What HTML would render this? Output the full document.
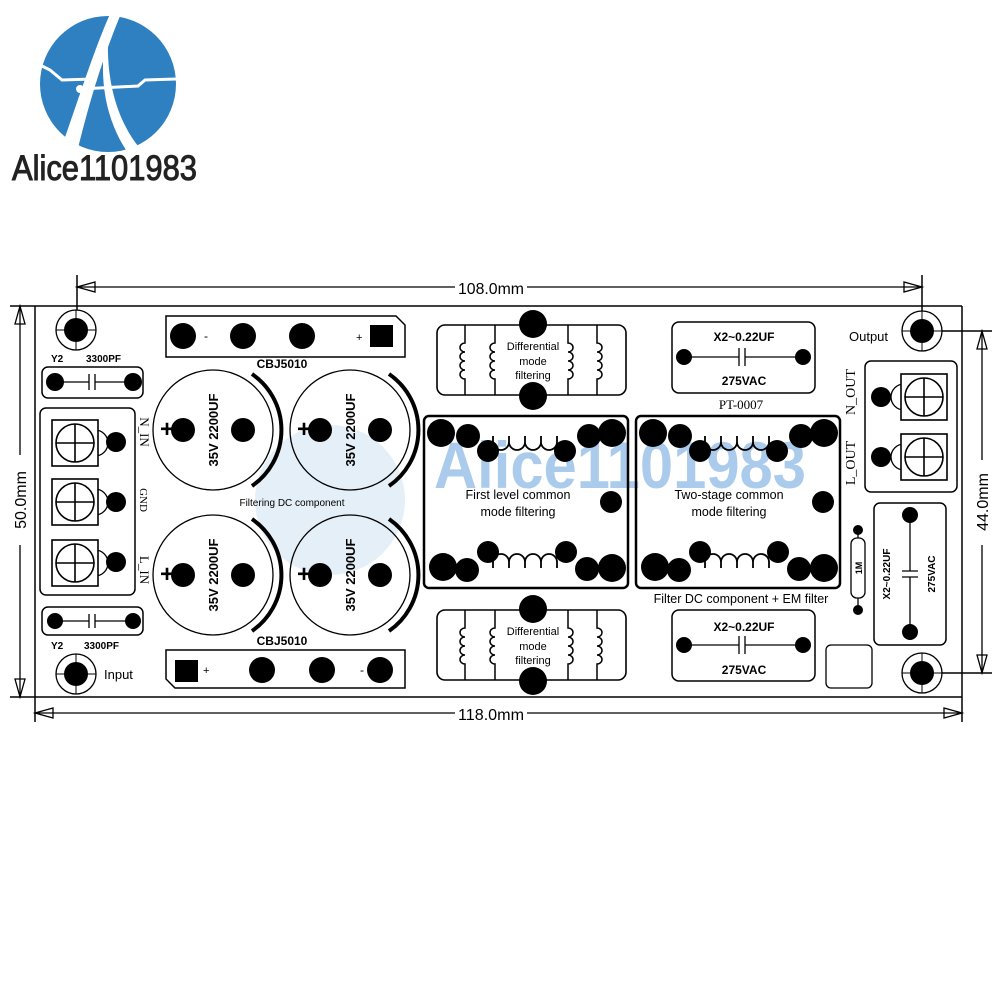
<!DOCTYPE html>
<html><head><meta charset="utf-8"><style>
html,body{margin:0;padding:0;background:#fff}
svg{display:block}
text{font-family:"Liberation Sans",Arial,sans-serif}
.s{font-family:"Liberation Serif",serif}
</style></head><body>
<svg width="1000" height="1000" viewBox="0 0 1000 1000" xmlns="http://www.w3.org/2000/svg">
<defs>
<g id="hole"><circle r="20" fill="#fff" stroke="#000" stroke-width="1.3"/><circle r="12" fill="#000"/><line x1="-20" y1="0" x2="20" y2="0" stroke="#000" stroke-width="1"/><line x1="0" y1="-20" x2="0" y2="20" stroke="#000" stroke-width="1"/></g>
<g id="term"><circle cx="-20" cy="0" r="13" fill="#fff" stroke="#000" stroke-width="1.3"/><rect x="-23" y="-23" width="46" height="46" fill="#fff" stroke="#000" stroke-width="1.6"/><circle r="19" fill="none" stroke="#000" stroke-width="1.6"/><line x1="-19" y1="0" x2="19" y2="0" stroke="#000" stroke-width="1.6"/><line x1="0" y1="-19" x2="0" y2="19" stroke="#000" stroke-width="1.6"/></g>
<g id="cap"><circle r="60" fill="none" stroke="#000" stroke-width="1.3"/><path d="M39,-56 A68,68 0 0 1 39,56" fill="none" stroke="#000" stroke-width="4"/><circle cx="-30" cy="0" r="12" fill="#000"/><circle cx="30" cy="0" r="12" fill="#000"/><text x="-46" y="7" font-size="24" font-weight="bold" text-anchor="middle">+</text><text transform="rotate(-90)" x="0" y="5" font-size="13" font-weight="bold" text-anchor="middle">35V 2200UF</text></g>
<g id="diff"><rect x="437" y="0" width="189" height="70" rx="8" fill="#fff" stroke="#000" stroke-width="1.6"/>
<g fill="none" stroke="#000" stroke-width="1.5">
<path d="M465,0 V18 a5,4.5 0 0 0 0,9 a5,4.5 0 0 0 0,9 a5,4.5 0 0 0 0,9 a5,4.5 0 0 0 0,9 V70"/>
<path d="M495,0 V18 a5,4.5 0 0 0 0,9 a5,4.5 0 0 0 0,9 a5,4.5 0 0 0 0,9 a5,4.5 0 0 0 0,9 V70"/>
<path d="M568,0 V18 a5,4.5 0 0 1 0,9 a5,4.5 0 0 1 0,9 a5,4.5 0 0 1 0,9 a5,4.5 0 0 1 0,9 V70"/>
<path d="M597,0 V18 a5,4.5 0 0 1 0,9 a5,4.5 0 0 1 0,9 a5,4.5 0 0 1 0,9 a5,4.5 0 0 1 0,9 V70"/>
</g>
<circle cx="533" cy="-1" r="14" fill="#000"/><circle cx="533" cy="71" r="14" fill="#000"/>
<text x="533" y="25" font-size="11" text-anchor="middle">Differential</text>
<text x="533" y="40" font-size="11" text-anchor="middle">mode</text>
<text x="533" y="54" font-size="11" text-anchor="middle">filtering</text>
</g>
<g id="cm"><rect x="424" y="416" width="204" height="172" rx="5" fill="none" stroke="#000" stroke-width="2.5"/>
<path d="M493,436 V442 a8,8 0 0 0 16,0 V436 M509,442 a8,8 0 0 0 16,0 V436 M525,442 a8,8 0 0 0 16,0 V436 M541,442 a8,8 0 0 0 16,0 V436" fill="none" stroke="#000" stroke-width="1.8"/>
<path d="M493,568 V562 a8,8 0 0 1 16,0 V568 M509,562 a8,8 0 0 1 16,0 V568 M525,562 a8,8 0 0 1 16,0 V568 M541,562 a8,8 0 0 1 16,0 V568" fill="none" stroke="#000" stroke-width="1.8"/>
<g fill="#000"><circle cx="441" cy="433" r="14"/><circle cx="468" cy="436" r="12"/><circle cx="488" cy="451" r="11"/><circle cx="565" cy="451" r="11"/><circle cx="589" cy="436" r="12"/><circle cx="612" cy="433" r="14"/><circle cx="611" cy="502" r="11"/><circle cx="443" cy="567" r="14"/><circle cx="467" cy="570" r="12"/><circle cx="488" cy="552" r="11"/><circle cx="566" cy="552" r="11"/><circle cx="587" cy="569" r="12"/><circle cx="612" cy="568" r="14"/></g></g>
<g id="x2h"><rect x="672" y="0" width="143" height="71" rx="7" fill="#fff" stroke="#000" stroke-width="1.5"/><circle cx="684" cy="35" r="8" fill="#000"/><circle cx="803" cy="35" r="8" fill="#000"/><path d="M684,35 H739 M745,35 H803 M739,26 V44 M745,26 V44" stroke="#000" stroke-width="1.3" fill="none"/></g>
</defs>

<!-- logo -->
<circle cx="108" cy="84" r="68" fill="#2f80c0"/>
<path d="M110,14 L120,16 C102,60 90,100 78,148 L64,140 C80,95 94,50 110,14 Z" fill="#fff"/>
<path d="M110,16 C104,60 110,110 138,146 L126,150 C100,110 98,60 110,16 Z" fill="#fff"/>
<path d="M40,65 L50,70 L62,80 L93,79" fill="none" stroke="#fff" stroke-width="3"/>
<path d="M80,89 L138,86 L145,80 L176,79" fill="none" stroke="#fff" stroke-width="3"/>
<circle cx="93" cy="79" r="4" fill="#fff"/><circle cx="80" cy="89" r="4" fill="#fff"/>
<text x="12" y="180" font-size="35" fill="#222" stroke="#222" stroke-width="1" textLength="185" lengthAdjust="spacingAndGlyphs">Alice1101983</text>

<!-- watermark -->
<circle cx="330" cy="500" r="75" fill="#d4e4f2" opacity="0.6"/>
<text x="434" y="488" font-size="66" font-weight="bold" fill="#9cc2e8" opacity="0.85" textLength="372" lengthAdjust="spacingAndGlyphs">Alice1101983</text>

<!-- board lines -->
<g stroke="#000" stroke-width="1.5" fill="none">
<line x1="10" y1="306" x2="962" y2="306"/>
<line x1="10" y1="697" x2="962" y2="697"/>
<line x1="35" y1="306" x2="35" y2="722"/>
<line x1="962" y1="306" x2="962" y2="722"/>
<line x1="77" y1="275" x2="77" y2="330"/>
<line x1="922" y1="275" x2="922" y2="330"/>
<line x1="922" y1="331" x2="992" y2="331"/>
<line x1="922" y1="673" x2="992" y2="673"/>
</g>
<g stroke="#000" stroke-width="1.3" fill="none">
<line x1="77" y1="287" x2="455" y2="287"/><line x1="527" y1="287" x2="922" y2="287"/>
<line x1="35" y1="713" x2="455" y2="713"/><line x1="527" y1="713" x2="962" y2="713"/>
<line x1="20" y1="306" x2="20" y2="455"/><line x1="20" y1="545" x2="20" y2="697"/>
<line x1="982" y1="331" x2="982" y2="460"/><line x1="982" y1="545" x2="982" y2="673"/>
<path d="M77,287 L95,282 L95,292 Z"/><path d="M922,287 L904,282 L904,292 Z"/>
<path d="M35,713 L53,708 L53,718 Z"/><path d="M962,713 L944,708 L944,718 Z"/>
<path d="M20,306 L15,324 L25,324 Z"/><path d="M20,697 L15,679 L25,679 Z"/>
<path d="M982,331 L977,349 L987,349 Z"/><path d="M982,673 L977,655 L987,655 Z"/>
</g>
<text x="491" y="294" font-size="16" text-anchor="middle" textLength="66" lengthAdjust="spacingAndGlyphs">108.0mm</text>
<text x="491" y="720" font-size="16" text-anchor="middle" textLength="66" lengthAdjust="spacingAndGlyphs">118.0mm</text>
<text transform="translate(26,500) rotate(-90)" font-size="16" text-anchor="middle">50.0mm</text>
<text transform="translate(988,502) rotate(-90)" font-size="16" text-anchor="middle">44.0mm</text>

<!-- holes -->
<use href="#hole" x="76" y="330"/><use href="#hole" x="76" y="674"/>
<use href="#hole" x="922" y="331"/><use href="#hole" x="922" y="673"/>
<text x="104" y="679" font-size="13">Input</text>
<text x="849" y="341" font-size="13">Output</text>

<!-- CBJ top -->
<path d="M166,316 H396 L405,325 V357 H166 Z" fill="#fff" stroke="#000" stroke-width="1.5"/>
<circle cx="183" cy="336" r="13" fill="#000"/><circle cx="243" cy="336" r="13" fill="#000"/><circle cx="302" cy="336" r="13" fill="#000"/>
<rect x="370" y="325" width="23" height="22" fill="#000"/>
<text x="204" y="340" font-size="12">-</text><text x="356" y="341" font-size="11">+</text>
<text x="282" y="368" font-size="12" font-weight="bold" text-anchor="middle">CBJ5010</text>
<!-- CBJ bottom -->
<path d="M166,650 H405 V688 H175 L166,679 Z" fill="#fff" stroke="#000" stroke-width="1.5"/>
<rect x="175" y="660" width="23" height="22" fill="#000"/>
<circle cx="262" cy="670" r="13" fill="#000"/><circle cx="322" cy="670" r="13" fill="#000"/><circle cx="380" cy="670" r="13" fill="#000"/>
<text x="203" y="674" font-size="11">+</text><text x="360" y="674" font-size="12">-</text>
<text x="282" y="645" font-size="12" font-weight="bold" text-anchor="middle">CBJ5010</text>

<!-- Y2 caps -->
<rect x="42" y="367" width="101" height="31" rx="6" fill="#fff" stroke="#000" stroke-width="1.5"/>
<circle cx="55" cy="382" r="9" fill="#000"/><circle cx="133" cy="382" r="9" fill="#000"/>
<path d="M55,382 H89 M95,382 H133 M89,374 V390 M95,374 V390" stroke="#000" stroke-width="1.3"/>
<text x="51" y="362" font-size="10" font-weight="bold">Y2</text><text x="86" y="362" font-size="10" font-weight="bold">3300PF</text>
<rect x="42" y="607" width="101" height="28" rx="6" fill="#fff" stroke="#000" stroke-width="1.5"/>
<circle cx="55" cy="621" r="8" fill="#000"/><circle cx="133" cy="621" r="8" fill="#000"/>
<path d="M55,621 H89 M95,621 H133 M89,614 V628 M95,614 V628" stroke="#000" stroke-width="1.3"/>
<text x="51" y="649" font-size="10" font-weight="bold">Y2</text><text x="84" y="649" font-size="10" font-weight="bold">3300PF</text>

<!-- left terminal -->
<rect x="40" y="408" width="95" height="187" rx="6" fill="#fff" stroke="#000" stroke-width="1.5"/>
<g transform="translate(75,443) scale(-1,1)"><use href="#term"/></g>
<g transform="translate(75,502) scale(-1,1)"><use href="#term"/></g>
<g transform="translate(75,563) scale(-1,1)"><use href="#term"/></g>
<circle cx="116" cy="442" r="10" fill="#000"/><circle cx="116" cy="502" r="10" fill="#000"/><circle cx="116" cy="562" r="10" fill="#000"/>
<text class="s" transform="translate(140,432) rotate(90)" font-size="13" text-anchor="middle">N_IN</text>
<text class="s" transform="translate(140,500) rotate(90)" font-size="11" text-anchor="middle">GND</text>
<text class="s" transform="translate(140,570) rotate(90)" font-size="13" text-anchor="middle">L_IN</text>

<!-- caps -->
<use href="#cap" x="213" y="430"/><use href="#cap" x="350" y="430"/>
<use href="#cap" x="213" y="575"/><use href="#cap" x="350" y="575"/>
<text x="292" y="506" font-size="10" text-anchor="middle">Filtering DC component</text>

<!-- diff mode -->
<use href="#diff" y="325"/><use href="#diff" y="610"/>

<!-- common mode -->
<use href="#cm"/><use href="#cm" x="212"/>
<text x="518" y="499" font-size="12.5" text-anchor="middle">First level common</text>
<text x="518" y="516" font-size="12.5" text-anchor="middle">mode filtering</text>
<text x="729" y="499" font-size="12.5" text-anchor="middle">Two-stage common</text>
<text x="729" y="516" font-size="12.5" text-anchor="middle">mode filtering</text>
<text x="741" y="603" font-size="12.5" text-anchor="middle">Filter DC component + EM filter</text>

<!-- X2 horizontal -->
<use href="#x2h" y="322"/><use href="#x2h" y="610"/>
<text x="744" y="341" font-size="12" font-weight="bold" text-anchor="middle">X2~0.22UF</text>
<text x="744" y="385" font-size="12" font-weight="bold" text-anchor="middle">275VAC</text>
<text x="744" y="631" font-size="12" font-weight="bold" text-anchor="middle">X2~0.22UF</text>
<text x="744" y="674" font-size="12" font-weight="bold" text-anchor="middle">275VAC</text>
<text class="s" x="741" y="409" font-size="13" text-anchor="middle">PT-0007</text>

<!-- output terminal -->
<rect x="865" y="361" width="92" height="131" rx="6" fill="#fff" stroke="#000" stroke-width="1.5"/>
<use href="#term" x="924" y="397"/><use href="#term" x="924" y="457"/>
<circle cx="881" cy="397" r="10" fill="#000"/><circle cx="881" cy="457" r="10" fill="#000"/>
<text class="s" transform="translate(855,392) rotate(-90)" font-size="14" text-anchor="middle">N_OUT</text>
<text class="s" transform="translate(855,463) rotate(-90)" font-size="14" text-anchor="middle">L_OUT</text>

<!-- vertical X2 -->
<rect x="874" y="503" width="72" height="142" rx="6" fill="#fff" stroke="#000" stroke-width="1.5"/>
<circle cx="910" cy="515" r="8" fill="#000"/><circle cx="910" cy="632" r="8" fill="#000"/>
<path d="M910,515 V571 M910,577 V632 M902,571 H918 M902,577 H918" stroke="#000" stroke-width="1.3"/>
<text transform="translate(890,574) rotate(-90)" font-size="10" font-weight="bold" text-anchor="middle">X2~0.22UF</text>
<text transform="translate(935,574) rotate(-90)" font-size="10" font-weight="bold" text-anchor="middle">275VAC</text>

<!-- 1M -->
<line x1="858" y1="530" x2="858" y2="610" stroke="#000" stroke-width="1.3"/>
<circle cx="858" cy="530" r="5" fill="#000"/><circle cx="858" cy="610" r="5" fill="#000"/>
<rect x="851" y="538" width="14" height="60" rx="6" fill="#fff" stroke="#000" stroke-width="1.3"/>
<text transform="translate(862,568) rotate(-90)" font-size="9" font-weight="bold" text-anchor="middle">1M</text>

<rect x="826" y="645" width="46" height="43" rx="5" fill="none" stroke="#000" stroke-width="1.3"/>
</svg>
</body></html>
